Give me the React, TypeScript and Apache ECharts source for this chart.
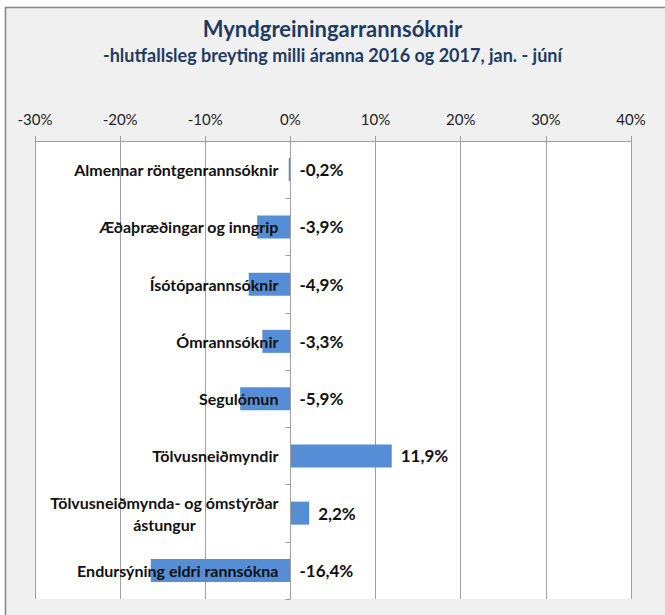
import React, { useEffect, useRef } from "react";
import * as echarts from "echarts";

// Relative change 2016 -> 2017 (jan. - júní), in percent
const categories: string[] = [
  "Almennar röntgenrannsóknir",
  "Æðaþræðingar og inngrip",
  "Ísótóparannsóknir",
  "Ómrannsóknir",
  "Segulómun",
  "Tölvusneiðmyndir",
  "Tölvusneiðmynda- og ómstýrðar\nástungur",
  "Endursýning eldri rannsókna",
];
const changes: number[] = [-0.2, -3.9, -4.9, -3.3, -5.9, 11.9, 2.2, -16.4];

const axisMin = -30;
const axisMax = 40;
const axisStep = 10;

const titleText = "Myndgreiningarrannsóknir";
const subtitleText = "-hlutfallsleg breyting milli áranna 2016 og 2017, jan. - júní";

const FONT = "Lato, 'Open Sans', sans-serif";
const NAVY = "#1f3b63";
const GRID = "#a0a0a0";

const WIDTH = 665;
const HEIGHT = 615;
const GRID_LEFT = 35;
const GRID_RIGHT = 34;
const PLOT_W = WIDTH - GRID_LEFT - GRID_RIGHT;
// category axis sits on the zero line of the value axis
const zeroOffset = -((0 - axisMin) / (axisMax - axisMin)) * PLOT_W;

const fmt = (v: number) => v.toFixed(1).replace(".", ",") + "%";

// wrapped category names: lines centred on each other, block right-aligned
const catLabel = (value: string) =>
  value.includes("\n")
    ? value
        .split("\n")
        .map((line) => `{c|${line}}`)
        .join("\n")
    : value;

export default function App() {
  const ref = useRef<HTMLDivElement>(null);

  useEffect(() => {
    if (!ref.current) return;
    const chart = echarts.init(ref.current, undefined, { renderer: "svg" });

    chart.setOption({
      animation: false,
      backgroundColor: "#f0f0f0",
      textStyle: { fontFamily: FONT },
      title: [
        {
          text: titleText,
          left: "center",
          top: 12,
          textStyle: { fontFamily: FONT, fontSize: 22, fontWeight: "bold", color: NAVY },
        },
        {
          text: subtitleText,
          left: "center",
          top: 41,
          textStyle: { fontFamily: FONT, fontSize: 18, fontWeight: "bold", color: NAVY },
        },
      ],
      graphic: [
        { type: "rect", shape: { x: 0, y: 0, width: WIDTH, height: 6.5 }, style: { fill: "#ffffff" }, silent: true },
        { type: "rect", shape: { x: 0, y: 0, width: 4.5, height: HEIGHT }, style: { fill: "#ffffff" }, silent: true },
        {
          type: "rect",
          shape: { x: 5.5, y: 7.5, width: 700, height: 700 },
          style: { fill: "none", stroke: "#8a8a8a", lineWidth: 1.6 },
          silent: true,
        },
      ],
      grid: {
        left: GRID_LEFT,
        right: GRID_RIGHT,
        top: 141,
        bottom: 16,
        containLabel: false,
        outerBoundsMode: "none",
        show: true,
        backgroundColor: "#ffffff",
        borderWidth: 0,
      },
      xAxis: {
        type: "value",
        position: "top",
        min: axisMin,
        max: axisMax,
        interval: axisStep,
        axisLine: { show: true, lineStyle: { color: GRID, width: 1 } },
        axisTick: { show: true, length: 5, lineStyle: { color: GRID } },
        axisLabel: {
          formatter: "{value}%",
          fontFamily: FONT,
          fontSize: 15,
          color: "#222",
          margin: 15,
        },
        splitLine: { show: true, lineStyle: { color: GRID, width: 1 } },
      },
      yAxis: {
        type: "category",
        inverse: true,
        position: "left",
        offset: zeroOffset,
        z: 10,
        data: categories,
        axisLine: { show: true, onZero: false, lineStyle: { color: GRID, width: 1 } },
        axisTick: { show: true, length: 5, lineStyle: { color: GRID } },
        axisLabel: {
          fontFamily: FONT,
          fontSize: 16,
          fontWeight: "bold",
          color: "#111",
          margin: 12,
          lineHeight: 22,
          align: "right",
          formatter: catLabel,
          rich: {
            c: {
              fontFamily: FONT,
              fontSize: 16,
              fontWeight: "bold",
              color: "#111",
              lineHeight: 22,
              width: 228,
              align: "center",
            },
          },
        },
        splitLine: { show: false },
      },
      series: [
        {
          type: "bar",
          data: changes,
          barWidth: 23,
          itemStyle: { color: "#558ed5" },
          z: 2,
        },
        {
          // transparent carriers that put each value label right of the bar end (or of zero)
          type: "bar",
          data: changes.map((v) => Math.max(v, 0)),
          barWidth: 23,
          barGap: "-100%",
          silent: true,
          itemStyle: { color: "rgba(0,0,0,0)" },
          label: {
            show: true,
            position: "right",
            distance: 9,
            fontFamily: FONT,
            fontSize: 17,
            fontWeight: "bold",
            color: "#111",
            formatter: (p: any) => fmt(changes[p.dataIndex]),
          },
          z: 3,
        },
      ],
    });

    return () => chart.dispose();
  }, []);

  return (
    <div
      ref={ref}
      style={{ position: "fixed", left: 0, top: 0, width: WIDTH, height: HEIGHT }}
    />
  );
}
